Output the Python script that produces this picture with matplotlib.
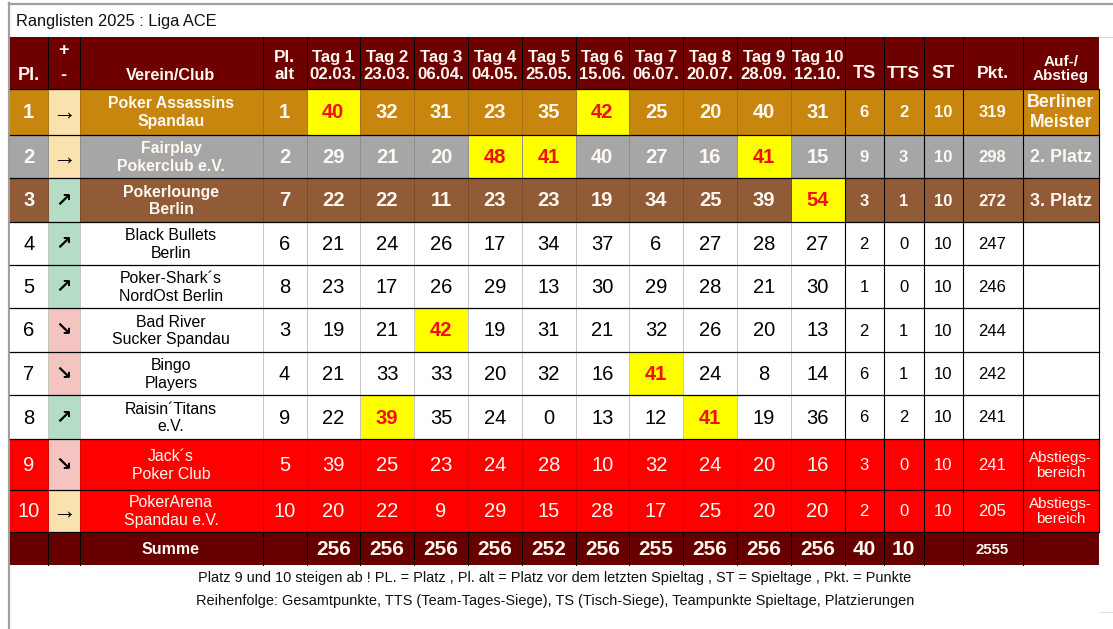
import numpy as np
import matplotlib
matplotlib.use('Agg')
import matplotlib.pyplot as plt
from matplotlib.patches import Rectangle

plt.rcParams['font.family'] = ['Liberation Sans', 'DejaVu Sans']

title = 'Ranglisten 2025 : Liga ACE'
places = [1, 2, 3, 4, 5, 6, 7, 8, 9, 10]
trend = ['same', 'same', 'up', 'up', 'up', 'down', 'down', 'up', 'down', 'same']
clubs = [
    'Poker Assassins\nSpandau',
    'Fairplay\nPokerclub e.V.',
    'Pokerlounge\nBerlin',
    'Black Bullets\nBerlin',
    'Poker-Shark´s\nNordOst Berlin',
    'Bad River\nSucker Spandau',
    'Bingo\nPlayers',
    'Raisin´Titans\ne.V.',
    'Jack´s\nPoker Club',
    'PokerArena\nSpandau e.V.',
]
old_places = [1, 2, 7, 6, 8, 3, 4, 9, 5, 10]
tag_labels = ['Tag 1\n02.03.', 'Tag 2\n23.03.', 'Tag 3\n06.04.', 'Tag 4\n04.05.', 'Tag 5\n25.05.',
              'Tag 6\n15.06.', 'Tag 7\n06.07.', 'Tag 8\n20.07.', 'Tag 9\n28.09.', 'Tag 10\n12.10.']
scores = np.array([
    [40, 32, 31, 23, 35, 42, 25, 20, 40, 31],
    [29, 21, 20, 48, 41, 40, 27, 16, 41, 15],
    [22, 22, 11, 23, 23, 19, 34, 25, 39, 54],
    [21, 24, 26, 17, 34, 37, 6, 27, 28, 27],
    [23, 17, 26, 29, 13, 30, 29, 28, 21, 30],
    [19, 21, 42, 19, 31, 21, 32, 26, 20, 13],
    [21, 33, 33, 20, 32, 16, 41, 24, 8, 14],
    [22, 39, 35, 24, 0, 13, 12, 41, 19, 36],
    [39, 25, 23, 24, 28, 10, 32, 24, 20, 16],
    [20, 22, 9, 29, 15, 28, 17, 25, 20, 20],
])
ts = [6, 9, 3, 2, 1, 2, 6, 6, 3, 2]
tts = [2, 3, 1, 0, 0, 1, 1, 2, 0, 0]
st = [10, 10, 10, 10, 10, 10, 10, 10, 10, 10]
points = [319, 298, 272, 247, 246, 244, 242, 241, 241, 205]
status = ['Berliner\nMeister', '2. Platz', '3. Platz', '', '', '', '', '', 'Abstiegs-\nbereich', 'Abstiegs-\nbereich']
tag_sums = [256, 256, 256, 256, 252, 256, 255, 256, 256, 256]
ts_sum = 40
tts_sum = 10
points_sum = 2555
notes = [
    'Platz 9 und 10 steigen ab ! PL. = Platz , Pl. alt = Platz vor dem letzten Spieltag , ST = Spieltage , Pkt. = Punkte',
    'Reihenfolge: Gesamtpunkte, TTS (Team-Tages-Siege), TS (Tisch-Siege), Teampunkte Spieltage, Platzierungen',
]

# cell edges in pixels of the 1113x629 picture
col_x = [10, 47.5, 79.5, 262.5, 306.5, 360, 414, 468, 522, 575.5, 629, 683, 737, 790.5, 844.5,
         883.5, 923.5, 962.5, 1022.5, 1099]
row_y = [37, 88.5, 135, 178, 222, 265, 308, 352, 395, 439, 489.5, 532, 565]

HEADER = '#6e0000'
SUM_ROW = '#660000'
ROW_COLORS = ['#c8860f', '#a6a6a6', '#915b38'] + ['white'] * 5 + ['#ff0000'] * 2
LINE_COLORS = ['#a87210', '#8f8f8f', '#7a4c2f'] + ['#c4c4c4'] * 5 + ['#d80000'] * 2
TREND_COLORS = {'same': '#fae2ae', 'up': '#b5ddc6', 'down': '#f4c4c0'}
TREND_GLYPHS = {'same': '\u2192', 'up': '\u2197', 'down': '\u2198'}

fig = plt.figure(figsize=(11.13, 6.29), dpi=100)
ax = fig.add_axes([0, 0, 1, 1])
ax.set_xlim(0, 1113)
ax.set_ylim(629, 0)
ax.axis('off')


def fill(c0, c1, r0, r1, color):
    ax.add_patch(Rectangle((col_x[c0], row_y[r0]), col_x[c1] - col_x[c0], row_y[r1] - row_y[r0],
                           facecolor=color, edgecolor='none', zorder=1))


def put(c, r, s, size, color='black', bold=False, cy=None, spacing=1.22):
    x = (col_x[c] + col_x[c + 1]) / 2
    y = (row_y[r] + row_y[r + 1]) / 2 + 1 if cy is None else cy
    ax.text(x, y, str(s), fontsize=size, color=color, ha='center', va='center', linespacing=spacing,
            fontweight='bold' if bold else 'normal', zorder=4)


# page frame
ax.plot([8.5, 1113], [3.5, 3.5], color='#a0a0a0', lw=1.6, zorder=0)
ax.plot([8.5, 8.5], [3, 629], color='#a0a0a0', lw=1.6, zorder=0)
ax.plot([10, 1113], [36.5, 36.5], color='#e4d4d4', lw=0.8, zorder=0)
ax.plot([1100, 1113], [611.5, 611.5], color='#e0e0e0', lw=0.8, zorder=0)
ax.text(16, 21.5, title, fontsize=11.8, color='#111111', ha='left', va='center')

# header
fill(0, 19, 0, 1, HEADER)
white = '#fff8f0'
put(0, 0, 'Pl.', 13, white, True, cy=75)
put(1, 0, '+', 13, white, True, cy=51)
put(1, 0, '-', 13, white, True, cy=75)
put(2, 0, 'Verein/Club', 11.7, white, True, cy=76)
put(3, 0, 'Pl.\nalt', 12.3, white, True, cy=66, spacing=1.13)
for i, label in enumerate(tag_labels):
    put(4 + i, 0, label, 12.1, white, True, cy=66, spacing=1.13)
put(14, 0, 'TS', 13, white, True, cy=74)
put(15, 0, 'TTS', 12.5, white, True, cy=74)
put(16, 0, 'ST', 13, white, True, cy=74)
put(17, 0, 'Pkt.', 12.5, white, True, cy=74)
put(18, 0, 'Auf-/\nAbstieg', 11, white, True, cy=69, spacing=1.05)

# rows
best = scores.argmax(axis=0)
for r in range(10):
    row = r + 1
    fill(0, 19, row, row + 1, ROW_COLORS[r])
    fill(1, 2, row, row + 1, TREND_COLORS[trend[r]])
    medal = r < 3
    ink = 'black' if 3 <= r <= 7 else white
    put(0, row, places[r], 14.5, ink, medal)
    if trend[r] == 'same':
        put(1, row, TREND_GLYPHS[trend[r]], 17, 'black')
    else:
        put(1, row, TREND_GLYPHS[trend[r]], 14, 'black', True)
    put(2, row, clubs[r], 11.4, ink, medal)
    put(3, row, old_places[r], 14.5, ink, medal)
    for t in range(10):
        top = best[t] == r
        if top:
            fill(4 + t, 5 + t, row, row + 1, '#ffff00')
        put(4 + t, row, scores[r, t], 14.5, '#f01010' if top else ink, medal or top)
    put(14, row, ts[r], 12, ink, medal)
    put(15, row, tts[r], 12, ink, medal)
    put(16, row, st[r], 12, ink, medal)
    put(17, row, points[r], 12, ink, medal)
    if r == 0:
        put(18, row, status[r], 12.8, ink, True, spacing=1.2)
    elif medal:
        put(18, row, status[r], 12.9, ink, True)
    elif status[r]:
        put(18, row, status[r], 10.9, ink, spacing=1.08)

# sum row
fill(0, 19, 11, 12, SUM_ROW)
put(2, 11, 'Summe', 11.5, white, True)
for t, value in enumerate(tag_sums):
    put(4 + t, 11, value, 15, white, True)
put(14, 11, ts_sum, 15, white, True)
put(15, 11, tts_sum, 15, white, True)
put(17, 11, points_sum, 10.8, white, True)

# grid lines
for r in range(1, 12):
    ax.plot([col_x[0], col_x[-1]], [row_y[r], row_y[r]], color='black', lw=0.9, zorder=3)
for c, x in enumerate(col_x):
    if 1 <= c <= 18:
        ax.plot([x, x], [row_y[0], row_y[1]], color='black', lw=0.7, zorder=3)
        ax.plot([x, x], [row_y[11], row_y[12]], color='black', lw=0.7, zorder=3)
    for r in range(10):
        if c >= 14:
            ax.plot([x, x], [row_y[r + 1], row_y[r + 2]], color='black', lw=0.8, zorder=3)
        elif c >= 1:
            ax.plot([x, x], [row_y[r + 1], row_y[r + 2]], color=LINE_COLORS[r], lw=0.7, zorder=2)

# footer
ax.text(555, 578, notes[0], fontsize=10.45, color='#111111', ha='center', va='center')
ax.text(555, 601, notes[1], fontsize=10.45, color='#111111', ha='center', va='center')

fig.savefig('out.png', dpi=100)
